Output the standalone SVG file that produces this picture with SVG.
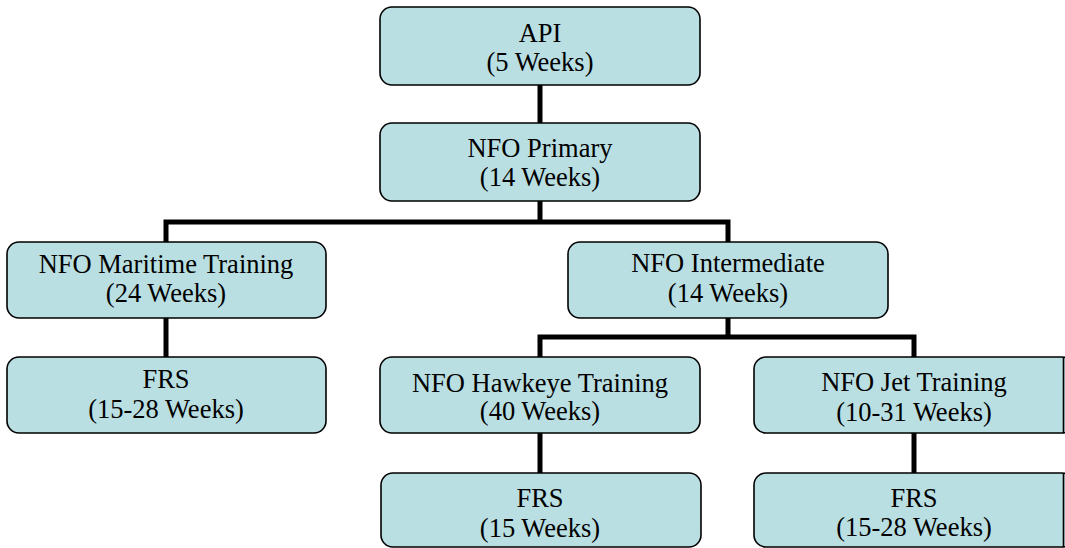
<svg xmlns="http://www.w3.org/2000/svg" width="1065" height="548" viewBox="0 0 1065 548">
<style>
.box{fill:#B9DFE2;stroke:#000;stroke-width:1.6}
.t{font-family:'Liberation Serif','Times New Roman',serif;font-size:26.5px;fill:#000;text-anchor:middle}
.c{fill:none;stroke:#000;stroke-width:5;stroke-linecap:butt;stroke-linejoin:miter}
</style>
<rect width="1065" height="548" fill="#fff"/>
<g id="connectors">
<path class="c" d="M540,85 V123"/>
<path class="c" d="M540,201 V222 M166,242 V222 H728 V242"/>
<path class="c" d="M166,318 V357"/>
<path class="c" d="M728,318 V337 M540,357 V337 H914 V357"/>
<path class="c" d="M540,433 V473"/>
<path class="c" d="M914,433 V473"/>
</g>
<g id="api">
<rect class="box" x="380" y="7" width="320" height="78" rx="12"/>
<text class="t" x="540" y="42">API</text>
<text class="t" x="540" y="71">(5 Weeks)</text>
</g>
<g id="primary">
<rect class="box" x="380" y="123" width="320" height="78" rx="12"/>
<text class="t" x="540" y="157">NFO Primary</text>
<text class="t" x="540" y="186">(14 Weeks)</text>
</g>
<g id="maritime">
<rect class="box" x="7" y="242" width="319" height="76" rx="12"/>
<text class="t" x="166" y="273">NFO Maritime Training</text>
<text class="t" x="166" y="302">(24 Weeks)</text>
</g>
<g id="intermediate">
<rect class="box" x="568" y="242" width="320" height="76" rx="12"/>
<text class="t" x="728" y="272">NFO Intermediate</text>
<text class="t" x="728" y="302">(14 Weeks)</text>
</g>
<g id="frs-left">
<rect class="box" x="7" y="357" width="319" height="76" rx="12"/>
<text class="t" x="166" y="388">FRS</text>
<text class="t" x="166" y="418">(15-28 Weeks)</text>
</g>
<g id="hawkeye">
<rect class="box" x="380" y="357" width="320" height="76" rx="12"/>
<text class="t" x="540" y="392">NFO Hawkeye Training</text>
<text class="t" x="540" y="420">(40 Weeks)</text>
</g>
<g id="jet">
<rect class="box" x="754" y="357" width="320" height="76" rx="12"/>
<line x1="1063.5" y1="357" x2="1063.5" y2="433" stroke="#000" stroke-width="1.6"/>
<text class="t" x="914" y="391">NFO Jet Training</text>
<text class="t" x="914" y="421">(10-31 Weeks)</text>
</g>
<g id="frs-hawkeye">
<rect class="box" x="381" y="473" width="320" height="74" rx="12"/>
<text class="t" x="540" y="507">FRS</text>
<text class="t" x="540" y="537">(15 Weeks)</text>
</g>
<g id="frs-jet">
<rect class="box" x="754" y="473" width="320" height="74" rx="12"/>
<line x1="1063.5" y1="473" x2="1063.5" y2="547" stroke="#000" stroke-width="1.6"/>
<text class="t" x="914" y="507">FRS</text>
<text class="t" x="914" y="536">(15-28 Weeks)</text>
</g>
</svg>
